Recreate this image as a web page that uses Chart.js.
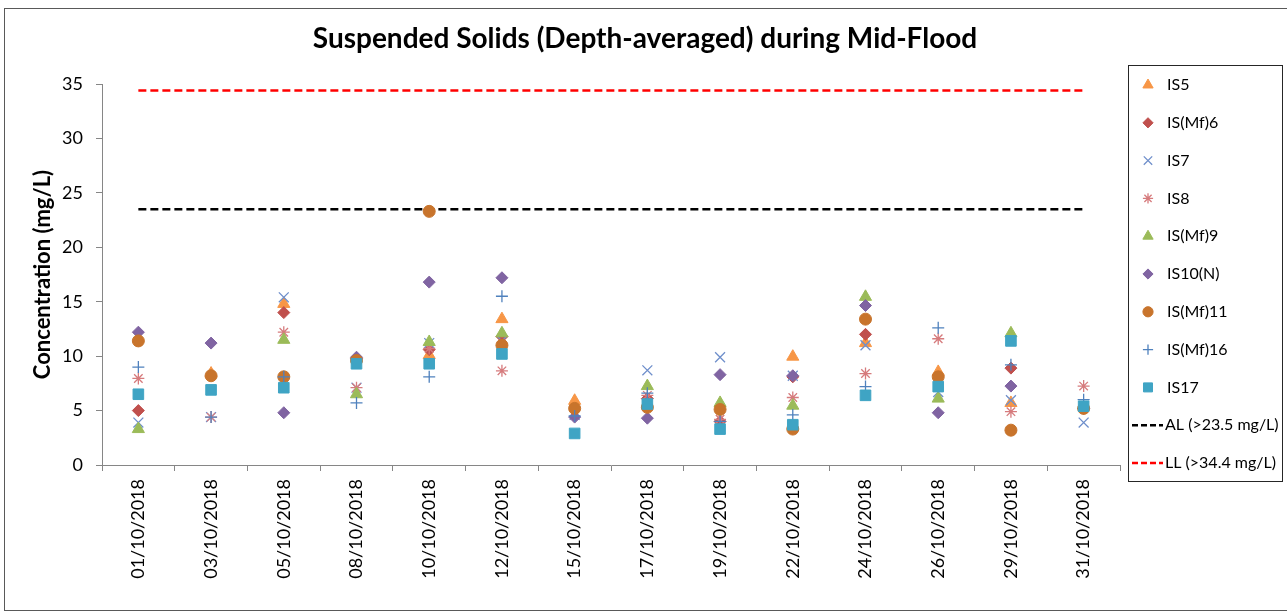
<!DOCTYPE html>
<html>
<head>
<meta charset="utf-8">
<title>Suspended Solids (Depth-averaged) during Mid-Flood</title>
<script src="https://cdn.jsdelivr.net/npm/chart.js@4.4.0/dist/chart.umd.min.js"></script>
<style>
  html, body { margin: 0; padding: 0; background: #fff; }
</style>
</head>
<body>
<canvas id="ssChart" width="1287" height="612"></canvas>
<script>
// sampling dates (x categories)
var dates = ['01/10/2018', '03/10/2018', '05/10/2018', '08/10/2018', '10/10/2018', '12/10/2018', '15/10/2018',
             '17/10/2018', '19/10/2018', '22/10/2018', '24/10/2018', '26/10/2018', '29/10/2018', '31/10/2018'];

// depth-averaged SS (mg/L) per station (null = hidden / not visible)
var is5      = [null, 8.4, 14.8, null, 10.1, 13.4, 5.9, null, null, 9.95, 11.2, 8.55, 5.7, null];
var isMf6    = [5.0, null, 14.0, 9.8, 10.6, 11.8, null, 6.1, 4.0, 8.1, 12.0, null, 8.9, null];
var is7      = [3.9, 4.4, 15.4, 7.1, 11.2, 11.4, 4.6, 8.7, 9.9, 8.2, 11.0, 6.7, 5.95, 3.9];
var is8      = [7.95, 4.4, 12.2, 7.1, 10.7, 8.65, null, 6.4, 4.2, 6.2, 8.4, 11.6, 4.9, 7.25];
var isMf9    = [3.3, null, 11.5, 6.5, 11.3, 12.1, null, 7.25, 5.7, 5.45, 15.45, 6.1, 12.1, null];
var is10N    = [12.2, 11.2, 4.8, 9.9, 16.8, 17.2, 4.4, 4.3, 8.3, 8.2, 14.65, 4.8, 7.25, 5.2];
var isMf11   = [11.4, 8.2, 8.1, 9.6, 23.3, 11.0, 5.2, 5.3, 5.1, 3.3, 13.4, 8.1, 3.2, 5.2];
var isMf16   = [9.0, 4.4, 8.1, 5.7, 8.1, 15.5, 4.5, 6.6, 4.0, 4.6, 7.2, 12.6, 9.2, 6.0];
var is17     = [6.5, 6.9, 7.1, 9.3, 9.3, 10.2, 2.9, 5.6, 3.3, 3.7, 6.4, 7.2, 11.4, 5.4];

// action / limit levels
var alLevel = 23.5;
var llLevel = 34.4;

var yTicks = [0, 5, 10, 15, 20, 25, 30, 35];

var FONT = 'Lato, "DejaVu Sans", sans-serif';
Chart.defaults.font.family = FONT;
Chart.defaults.color = '#000';

function station(label, values, style, color, radius, lineW) {
    return {
        label: label,
        data: values,
        showLine: false,
        pointStyle: style,
        pointRadius: radius,
        pointHoverRadius: radius,
        pointBackgroundColor: color,
        pointBorderColor: color,
        pointBorderWidth: lineW,
        backgroundColor: color,
        borderColor: color,
        borderWidth: lineW
    };
}

function limitLine(label, level, color) {
    return {
        label: label,
        data: dates.map(function() { return level; }),
        borderColor: color,
        backgroundColor: color,
        borderWidth: 2.5,
        borderDash: [8, 4],
        pointRadius: 0,
        pointHoverRadius: 0,
        pointStyle: 'line',
        fill: false,
        order: 200
    };
}

var datasets = [
    station('IS5', is5, 'triangle', '#F79646', 7, 1),
    station('IS(Mf)6', isMf6, 'rectRot', '#C0504D', 6, 1),
    station('IS7', is7, 'crossRot', '#6F8FCB', 7, 1.3),
    station('IS8', is8, 'star', '#D67B7D', 6, 1.3),
    station('IS(Mf)9', isMf9, 'triangle', '#9BBB59', 7, 1),
    station('IS10(N)', is10N, 'rectRot', '#8064A2', 6, 1),
    station('IS(Mf)11', isMf11, 'circle', '#C8742C', 6, 1),
    station('IS(Mf)16', isMf16, 'cross', '#4F81BD', 6, 1.3),
    station('IS17', is17, 'rect', '#3FA4C4', 7.5, 1),
    limitLine('AL (>23.5 mg/L)', alLevel, '#000000'),
    limitLine('LL (>34.4 mg/L)', llLevel, '#FF0000')
];
// later series on top, like the spreadsheet
datasets.forEach(function(ds, i) { if (ds.order === undefined) ds.order = 100 - i; });

var framePlugin = {
    id: 'frame',
    beforeDraw: function(chart) {
        var ctx = chart.ctx;
        ctx.save();
        ctx.fillStyle = '#fff';
        ctx.fillRect(0, 0, chart.width, chart.height);
        ctx.strokeStyle = '#595959';
        ctx.lineWidth = 1;
        ctx.strokeRect(4.5, 8.5, 1300, 602);
        ctx.restore();
    },
    afterDraw: function(chart) {
        var ctx = chart.ctx;
        ctx.save();
        // main title
        ctx.fillStyle = '#000';
        ctx.font = 'bold 28px ' + FONT;
        ctx.textAlign = 'center';
        ctx.textBaseline = 'middle';
        ctx.fillText('Suspended Solids (Depth-averaged) during Mid-Flood', 645, 39);

        // legend box
        ctx.strokeStyle = '#262626';
        ctx.lineWidth = 1;
        ctx.strokeRect(1128.5, 65.5, 154, 416);
        ctx.font = '16px ' + FONT;
        ctx.textAlign = 'left';
        chart.data.datasets.forEach(function(ds, i) {
            var y = 85 + i * 37.8;
            if (ds.pointStyle === 'line') {
                ctx.strokeStyle = ds.borderColor;
                ctx.lineWidth = 2.5;
                ctx.setLineDash([6, 3]);
                ctx.beginPath();
                ctx.moveTo(1132, y);
                ctx.lineTo(1163, y);
                ctx.stroke();
                ctx.setLineDash([]);
                ctx.fillStyle = '#000';
                ctx.fillText(ds.label, 1165, y);
            } else {
                ctx.fillStyle = ds.pointBackgroundColor;
                ctx.strokeStyle = ds.pointBorderColor;
                ctx.lineWidth = ds.pointBorderWidth;
                Chart.helpers.drawPoint(ctx, {
                    pointStyle: ds.pointStyle,
                    radius: ds.pointRadius * 0.85,
                    rotation: 0,
                    borderWidth: ds.pointBorderWidth
                }, 1148, y);
                ctx.fillStyle = '#000';
                ctx.fillText(ds.label, 1167, y);
            }
        });
        ctx.restore();
    }
};

var myChart = new Chart(document.getElementById('ssChart').getContext('2d'), {
    type: 'line',
    data: {
        labels: dates,
        datasets: datasets
    },
    options: {
        responsive: false,
        animation: false,
        layout: {
            padding: { left: 8, right: 167, top: 84, bottom: 0 }
        },
        plugins: {
            legend: { display: false },
            title: { display: false },
            tooltip: { enabled: false }
        },
        scales: {
            x: {
                type: 'category',
                offset: true,
                afterFit: function(scale) { scale.height = 147; },
                border: { color: '#868686', width: 1 },
                grid: {
                    offset: true,
                    drawOnChartArea: false,
                    drawTicks: true,
                    tickLength: 6,
                    color: '#868686'
                },
                ticks: {
                    autoSkip: false,
                    minRotation: 90,
                    maxRotation: 90,
                    padding: 8,
                    color: '#000',
                    font: { size: 18 }
                }
            },
            y: {
                min: 0,
                max: 35,
                afterFit: function(scale) { scale.width = 94; },
                afterBuildTicks: function(scale) {
                    scale.ticks = yTicks.map(function(v) { return { value: v }; });
                },
                border: { color: '#868686', width: 1 },
                grid: {
                    drawOnChartArea: false,
                    drawTicks: true,
                    tickLength: 6,
                    color: '#868686'
                },
                ticks: {
                    padding: 13,
                    color: '#000',
                    font: { size: 18 }
                },
                title: {
                    display: true,
                    text: 'Concentration (mg/L)',
                    color: '#000',
                    font: { size: 22, weight: 'bold' },
                    padding: { top: 22, bottom: 0 }
                }
            }
        }
    },
    plugins: [framePlugin]
});
</script>
</body>
</html>
